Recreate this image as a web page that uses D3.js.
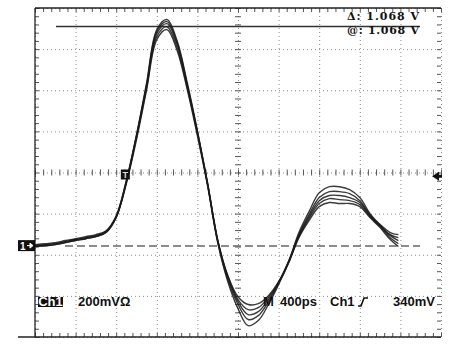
<!DOCTYPE html>
<html>
<head>
<meta charset="utf-8">
<script src="https://cdn.jsdelivr.net/npm/d3@7"></script>
<style>
  body { margin: 0; background: #fff; }
  svg { display: block; }
  .grid line { stroke: #8c8c8c; stroke-dasharray: 1,3; }
  .grid path, .tk path { display: none; }
  .tk line { stroke: #555; }
  .trace { fill: none; stroke: #1a1a1a; stroke-width: 1.4; stroke-opacity: 0.85; }
  .lbl { font-family: "Liberation Sans", Arial, sans-serif; font-weight: bold; font-size: 13px; fill: #111; }
  .cur { font-family: "DejaVu Serif", serif; font-weight: bold; font-size: 11px; fill: #111; }
</style>
</head>
<body>
<svg width="470" height="350"></svg>
<script>
// time of each sample, ps from left edge of screen (400 ps/div)
var timePs = [0,100,200,300,400,500,600,700,800,900,1000,1100,1200,1300,1400,1500,1600,1700,1800,
              1900,2000,2100,2200,2300,2400,2500,2600,2700,2800,2900,3000,3100,3200,3300,3400,3500,3580];

// five overlaid acquisitions, mV
var trace1 = [7,12,17,27,36,46,56,75,148,319,542,795,1053,1102,999,795,562,309,32,
              -143,-246,-284,-280,-241,-173,-71,66,168,260,289,289,275,236,158,105,66,56];
var trace2 = [2,7,12,22,32,41,51,71,143,314,537,785,1043,1092,990,785,557,304,27,
              -148,-260,-309,-299,-250,-178,-75,56,153,236,265,265,255,221,153,100,56,41];
var trace3 = [2,7,12,22,32,41,51,71,143,314,533,781,1033,1082,980,781,552,304,27,
              -153,-270,-333,-319,-260,-178,-75,51,143,221,246,246,236,212,148,100,51,27];
var trace4 = [-2,2,7,17,27,36,46,66,139,309,528,771,1019,1067,965,771,547,299,22,
              -163,-284,-357,-338,-270,-182,-80,46,134,207,231,226,221,202,143,95,41,12];
var trace5 = [-2,2,7,17,27,36,46,66,139,304,518,761,1004,1053,951,761,537,294,17,
              -173,-304,-387,-362,-284,-187,-80,41,124,192,212,207,207,192,139,90,32,-2];
var traces = [trace1, trace2, trace3, trace4, trace5];

var xDivs = [0,1,2,3,4,5,6,7,8,9,10];
var yDivs = [-4,-3,-2,-1,0,1,2,3,4];

var cursorMv = 1068;
var triggerMv = 340;
var triggerPs = 890;

var svg = d3.select("svg");
var g = svg.append("g");

var L = 35, R = 441, T = 8, B = 337;
var x = d3.scaleLinear().domain([0, 4000]).range([L, R]);
var y = d3.scaleLinear().domain([-442, 1158]).range([B, T]);
var gx = d3.scaleLinear().domain([0, 10]).range([L, R]);
var gy = d3.scaleLinear().domain([-4, 4]).range([B, T]);

var minorX = d3.range(0, 51).map(d => d / 5);
var minorY = d3.range(-20, 21).map(d => d / 5);

// dotted graticule
g.append("g").attr("class", "grid")
  .attr("transform", "translate(0," + T + ")")
  .call(d3.axisBottom(gx).tickValues(xDivs).tickSize(B - T).tickFormat(""));
g.append("g").attr("class", "grid")
  .attr("transform", "translate(" + L + ",0)")
  .call(d3.axisRight(gy).tickValues(yDivs).tickSize(R - L).tickFormat(""));

// minor ticks on centre lines
g.append("g").attr("class", "tk")
  .attr("transform", "translate(0," + (gy(0) - 3) + ")")
  .call(d3.axisBottom(gx).tickValues(minorX).tickSize(6).tickFormat(""));
g.append("g").attr("class", "tk")
  .attr("transform", "translate(" + (gx(5) - 3) + ",0)")
  .call(d3.axisRight(gy).tickValues(minorY).tickSize(6).tickFormat(""));

// minor ticks on the frame
g.append("g").attr("class", "tk").attr("transform", "translate(0," + T + ")")
  .call(d3.axisBottom(gx).tickValues(minorX).tickSize(4).tickFormat(""));
g.append("g").attr("class", "tk").attr("transform", "translate(0," + B + ")")
  .call(d3.axisTop(gx).tickValues(minorX).tickSize(4).tickFormat(""));
g.append("g").attr("class", "tk").attr("transform", "translate(" + L + ",0)")
  .call(d3.axisRight(gy).tickValues(minorY).tickSize(4).tickFormat(""));
g.append("g").attr("class", "tk").attr("transform", "translate(" + R + ",0)")
  .call(d3.axisLeft(gy).tickValues(minorY).tickSize(4).tickFormat(""));

// solid frame
g.append("line").attr("x1", L).attr("x2", R).attr("y1", T).attr("y2", T).attr("stroke", "#222").attr("stroke-width", 1.3);
g.append("line").attr("x1", 18).attr("x2", R).attr("y1", B).attr("y2", B).attr("stroke", "#222").attr("stroke-width", 1.3);
g.append("line").attr("x1", L).attr("x2", L).attr("y1", T).attr("y2", B).attr("stroke", "#222").attr("stroke-width", 1.3);

// ground reference (dashed)
g.append("line")
  .attr("x1", 65).attr("x2", 420)
  .attr("y1", y(0)).attr("y2", y(0))
  .attr("stroke", "#666").attr("stroke-width", 1.5).attr("stroke-dasharray", "8,4");

// cursor
g.append("line")
  .attr("x1", 56).attr("x2", 420)
  .attr("y1", y(cursorMv)).attr("y2", y(cursorMv))
  .attr("stroke", "#333").attr("stroke-width", 1.3);
g.append("text").attr("class", "cur").attr("text-anchor", "end")
  .attr("x", 419).attr("y", 20).attr("textLength", 72).attr("lengthAdjust", "spacing")
  .text("\u0394: " + (cursorMv / 1000).toFixed(3) + " V");
g.append("text").attr("class", "cur").attr("text-anchor", "end")
  .attr("x", 419).attr("y", 33.5).attr("textLength", 72).attr("lengthAdjust", "spacing")
  .text("@: " + (cursorMv / 1000).toFixed(3) + " V");

// waveforms
var line = d3.line()
  .x((d, i) => x(timePs[i]))
  .y(d => y(d))
  .curve(d3.curveCatmullRom.alpha(0.5));

g.selectAll(".trace")
  .data(traces)
  .enter().append("path")
    .attr("class", "trace")
    .attr("d", line);

// channel ground marker
g.append("rect").attr("x", 18).attr("y", y(0) - 6).attr("width", 17).attr("height", 11).attr("fill", "#111");
g.append("text").attr("x", 20).attr("y", y(0) + 3.5)
  .attr("fill", "#fff").attr("font-family", "Liberation Sans").attr("font-weight", "bold").attr("font-size", 10).text("1");
g.append("path")
  .attr("d", "M27," + (y(0) - 0.5) + "h3 M30," + (y(0) - 3) + "l3,2.5l-3,2.5z")
  .attr("stroke", "#fff").attr("fill", "#fff");

// trigger position marker
g.append("rect").attr("x", x(triggerPs) - 4.5).attr("y", gy(0) - 3).attr("width", 9).attr("height", 10).attr("fill", "#111");
g.append("text").attr("x", x(triggerPs)).attr("y", gy(0) + 5).attr("text-anchor", "middle")
  .attr("fill", "#ddd").attr("font-family", "Liberation Sans").attr("font-weight", "bold").attr("font-size", 9).text("T");

// trigger level arrow
var ty = y(triggerMv);
g.append("path")
  .attr("d", "M432," + ty + "L439," + (ty - 4.5) + "L439," + (ty - 1.5) + "L442," + (ty - 1.5) +
             "L442," + (ty + 1.5) + "L439," + (ty + 1.5) + "L439," + (ty + 4.5) + "Z")
  .attr("fill", "#111");

// readouts
g.append("rect").attr("x", 38).attr("y", 297).attr("width", 25).attr("height", 10).attr("fill", "#111");
g.append("text").attr("class", "lbl").attr("x", 50.5).attr("y", 306).attr("text-anchor", "middle")
  .attr("font-size", 11).style("fill", "#fff").text("Ch1");
g.append("text").attr("class", "lbl").attr("x", 78).attr("y", 306).text("200mV\u03A9");
g.append("text").attr("class", "lbl").attr("x", 263).attr("y", 306).text("M");
g.append("text").attr("class", "lbl").attr("x", 280).attr("y", 306).text("400ps");
g.append("text").attr("class", "lbl").attr("x", 330).attr("y", 306).text("Ch1");
g.append("path").attr("d", "M358,306 L361,306 L364,298 L368,298")
  .attr("fill", "none").attr("stroke", "#111").attr("stroke-width", 1.6);
g.append("text").attr("class", "lbl").attr("x", 393).attr("y", 306).text(triggerMv + "mV");
</script>
</body>
</html>
